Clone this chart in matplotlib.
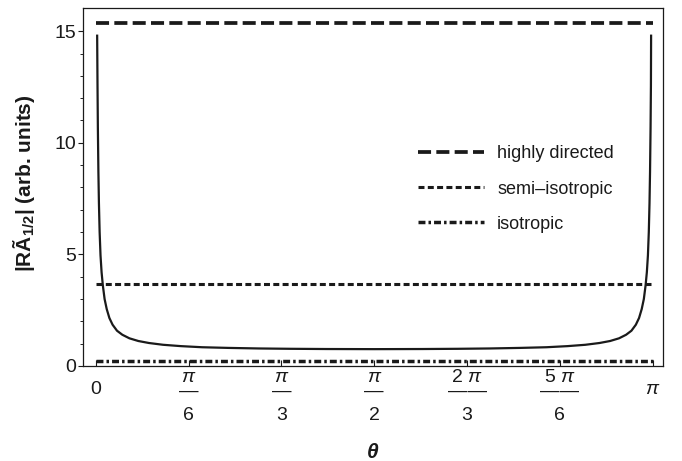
import numpy as np
import matplotlib
matplotlib.use("Agg")
import matplotlib.pyplot as plt
import matplotlib.transforms as mtransforms
from matplotlib.lines import Line2D

plt.rcParams['font.family'] = ['Liberation Sans', 'DejaVu Sans']
plt.rcParams['mathtext.fontset'] = 'custom'
plt.rcParams['mathtext.rm'] = 'Liberation Sans'
plt.rcParams['mathtext.it'] = 'Liberation Sans:italic'
plt.rcParams['mathtext.bf'] = 'Liberation Sans:bold'
plt.rcParams['lines.scale_dashes'] = False

# ----------------------------- DATA -----------------------------
# solid curve, left half (theta in rad) and right half (distance from pi)
theta_left = [0.008, 0.010, 0.012, 0.015, 0.018, 0.022, 0.027, 0.033, 0.040,
              0.050, 0.062, 0.077, 0.095, 0.120, 0.150, 0.190, 0.240, 0.300,
              0.380, 0.480, 0.600, 0.750, 0.920, 1.100, 1.300, 1.5708]
value_left = [14.85, 12.6, 10.7, 8.7, 7.3, 6.0, 4.95, 4.2, 3.62,
              3.0, 2.55, 2.15, 1.85, 1.58, 1.40, 1.24, 1.12, 1.03,
              0.95, 0.89, 0.84, 0.81, 0.785, 0.77, 0.76, 0.755]
dist_right = [1.300, 1.100, 0.920, 0.750, 0.600, 0.480, 0.380, 0.300, 0.240,
              0.190, 0.150, 0.120, 0.095, 0.077, 0.062, 0.050, 0.040, 0.033,
              0.027, 0.022, 0.018, 0.015, 0.012, 0.010, 0.009]
value_right = [0.76, 0.77, 0.785, 0.81, 0.84, 0.89, 0.95, 1.03, 1.12,
               1.24, 1.40, 1.58, 1.85, 2.15, 2.55, 3.0, 3.62, 4.2,
               4.95, 6.0, 7.3, 8.7, 10.7, 12.6, 14.85]

# constant reference levels
levels = {"highly directed": 15.35, "semi\u2013isotropic": 3.69, "isotropic": 0.24}

# x ticks: plain labels at the ends, stacked fractions in between
end_pos = [0, np.pi]
end_lab = ["0", r"$\pi$"]
frac_pos = [np.pi / 6, np.pi / 3, np.pi / 2, 2 * np.pi / 3, 5 * np.pi / 6]
frac_num = ["$\\pi$\n\u2014", "$\\pi$\n\u2014", "$\\pi$\n\u2014",
            "2 $\\pi$\n\u2014\u2014", "5 $\\pi$\n\u2014\u2014"]
frac_den = ["6", "3", "2", "3", "6"]
ytick_pos = [0, 5, 10, 15]
# ----------------------------------------------------------------

ink = "#1a1a1a"
styles = {
    "highly directed": dict(lw=2.7, dashes=(9.4, 3.8)),
    "semi\u2013isotropic": dict(lw=2.2, dashes=(4.3, 2.4)),
    "isotropic": dict(lw=2.5, dashes=(5.0, 2.2, 1.8, 2.2)),
}

fig = plt.figure(figsize=(6.82, 4.61), dpi=100)
ax = fig.add_axes([0.1222, 0.2061, 0.8495, 0.7765])

theta = list(theta_left) + list(np.pi - np.array(dist_right))
value = list(value_left) + list(value_right)
ax.plot(theta, value, color=ink, lw=1.6, solid_capstyle="butt")

handles = []
for name, lev in levels.items():
    ax.plot([0, np.pi], [lev, lev], color=ink, **styles[name])
    handles.append(Line2D([], [], color=ink, **styles[name]))

ax.set_xlim(-0.0699, np.pi + 0.0564)
ax.set_ylim(0, 16.04)

# major x ticks: numerator + fraction bar, minor ticks (same spots): denominator
ax.xaxis.remove_overlapping_locs = False
ax.set_xticks(end_pos + frac_pos)
ax.set_xticklabels(end_lab + frac_num)
ax.set_xticks(frac_pos, minor=True)
ax.set_xticklabels(frac_den, minor=True)
ax.tick_params(axis="x", which="major", direction="in", length=4.5, width=0.8,
               pad=2, labelsize=14, colors=ink)
ax.tick_params(axis="x", which="minor", length=0, pad=29.5, labelsize=14,
               colors=ink)

ax.set_yticks(ytick_pos)
ax.set_yticks(np.arange(0, 16, 1), minor=True)
ax.tick_params(axis="y", which="major", direction="out", length=3.5, width=0.8,
               pad=1.5, labelsize=14, colors=ink)
ax.tick_params(axis="y", which="minor", direction="out", length=2, width=0.6)
for s in ax.spines.values():
    s.set_linewidth(0.9)
    s.set_color(ink)

down = mtransforms.ScaledTranslation(0, -9 / 72, fig.dpi_scale_trans)
for lab in ax.get_xticklabels():
    if "\n" in lab.get_text():
        lab.set_linespacing(0.8)
    else:
        lab.set_transform(lab.get_transform() + down)

ax.set_ylabel(r"|RÃ$_{\mathbf{1/2}}$| (arb. units)", fontsize=15,
              fontweight="bold", color=ink)
ax.yaxis.set_label_coords(-0.080, 0.511)
ax.set_xlabel(r"θ", fontsize=15, fontweight="bold", fontstyle="italic", color=ink)
ax.xaxis.set_label_coords(0.5, -0.215)

leg = ax.legend(handles, list(levels.keys()), loc="upper left",
                bbox_to_anchor=(0.578, 0.616), frameon=False, fontsize=13,
                handlelength=3.65, handletextpad=0.72, labelspacing=1.0,
                borderpad=0, borderaxespad=0)
for t in leg.get_texts():
    t.set_color(ink)

fig.savefig("out.png", dpi=100)
